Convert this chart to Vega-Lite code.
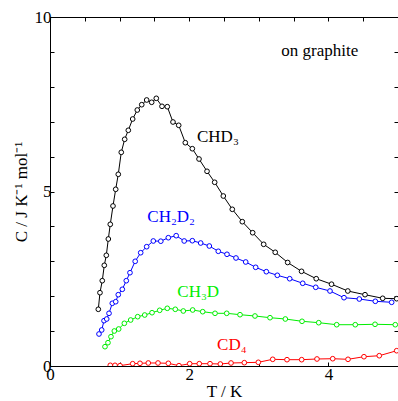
{
  "$schema": "https://vega.github.io/schema/vega-lite/v6.json",
  "width": 348,
  "height": 349,
  "autosize": {"type": "none"},
  "padding": {"left": 50, "top": 17, "right": 0, "bottom": 35},
  "background": "white",
  "config": {
    "view": {"stroke": null},
    "font": "Liberation Serif",
    "axis": {"labelFont": "Liberation Serif", "titleFont": "Liberation Serif", "labelFontSize": 17, "titleFontSize": 17, "titleFontWeight": "normal", "labelColor": "black", "titleColor": "black", "domainColor": "black", "tickColor": "black", "grid": false}
  },
  "datasets": {
    "curves": [
      {"s": "CHD3", "T": 0.694, "C": 1.625}, {"s": "CHD3", "T": 0.718, "C": 2.10}, {"s": "CHD3", "T": 0.751, "C": 2.444}, {"s": "CHD3", "T": 0.780, "C": 2.885},
      {"s": "CHD3", "T": 0.809, "C": 3.172}, {"s": "CHD3", "T": 0.838, "C": 3.639}, {"s": "CHD3", "T": 0.866, "C": 4.060}, {"s": "CHD3", "T": 0.905, "C": 4.585},
      {"s": "CHD3", "T": 0.944, "C": 5.063}, {"s": "CHD3", "T": 0.981, "C": 5.493}, {"s": "CHD3", "T": 1.024, "C": 6.123}, {"s": "CHD3", "T": 1.073, "C": 6.496},
      {"s": "CHD3", "T": 1.125, "C": 6.754}, {"s": "CHD3", "T": 1.188, "C": 7.077}, {"s": "CHD3", "T": 1.254, "C": 7.335}, {"s": "CHD3", "T": 1.318, "C": 7.487},
      {"s": "CHD3", "T": 1.389, "C": 7.622}, {"s": "CHD3", "T": 1.461, "C": 7.556}, {"s": "CHD3", "T": 1.527, "C": 7.670}, {"s": "CHD3", "T": 1.609, "C": 7.441},
      {"s": "CHD3", "T": 1.685, "C": 7.430}, {"s": "CHD3", "T": 1.767, "C": 6.991}, {"s": "CHD3", "T": 1.849, "C": 6.897}, {"s": "CHD3", "T": 1.944, "C": 6.398},
      {"s": "CHD3", "T": 2.045, "C": 6.226}, {"s": "CHD3", "T": 2.141, "C": 5.931}, {"s": "CHD3", "T": 2.256, "C": 5.579}, {"s": "CHD3", "T": 2.366, "C": 5.264},
      {"s": "CHD3", "T": 2.490, "C": 4.871}, {"s": "CHD3", "T": 2.619, "C": 4.490}, {"s": "CHD3", "T": 2.763, "C": 4.135}, {"s": "CHD3", "T": 2.912, "C": 3.819},
      {"s": "CHD3", "T": 3.070, "C": 3.487}, {"s": "CHD3", "T": 3.236, "C": 3.258}, {"s": "CHD3", "T": 3.415, "C": 2.966}, {"s": "CHD3", "T": 3.614, "C": 2.713},
      {"s": "CHD3", "T": 3.825, "C": 2.501}, {"s": "CHD3", "T": 4.045, "C": 2.344}, {"s": "CHD3", "T": 4.279, "C": 2.149}, {"s": "CHD3", "T": 4.526, "C": 2.043},
      {"s": "CHD3", "T": 4.780, "C": 1.940}, {"s": "CHD3", "T": 4.981, "C": 1.928},
      {"s": "CH2D2", "T": 0.704, "C": 0.917}, {"s": "CH2D2", "T": 0.743, "C": 1.032}, {"s": "CH2D2", "T": 0.776, "C": 1.298}, {"s": "CH2D2", "T": 0.815, "C": 1.347},
      {"s": "CH2D2", "T": 0.848, "C": 1.510}, {"s": "CH2D2", "T": 0.895, "C": 1.797}, {"s": "CH2D2", "T": 0.944, "C": 1.842}, {"s": "CH2D2", "T": 0.981, "C": 2.043},
      {"s": "CH2D2", "T": 1.039, "C": 2.198}, {"s": "CH2D2", "T": 1.096, "C": 2.444}, {"s": "CH2D2", "T": 1.149, "C": 2.673}, {"s": "CH2D2", "T": 1.224, "C": 3.0},
      {"s": "CH2D2", "T": 1.303, "C": 3.246}, {"s": "CH2D2", "T": 1.389, "C": 3.418}, {"s": "CH2D2", "T": 1.484, "C": 3.582}, {"s": "CH2D2", "T": 1.592, "C": 3.576},
      {"s": "CH2D2", "T": 1.700, "C": 3.676}, {"s": "CH2D2", "T": 1.813, "C": 3.734}, {"s": "CH2D2", "T": 1.928, "C": 3.582}, {"s": "CH2D2", "T": 2.045, "C": 3.590},
      {"s": "CH2D2", "T": 2.165, "C": 3.524}, {"s": "CH2D2", "T": 2.289, "C": 3.438}, {"s": "CH2D2", "T": 2.418, "C": 3.287}, {"s": "CH2D2", "T": 2.543, "C": 3.201},
      {"s": "CH2D2", "T": 2.672, "C": 3.095}, {"s": "CH2D2", "T": 2.812, "C": 2.980}, {"s": "CH2D2", "T": 2.955, "C": 2.828}, {"s": "CH2D2", "T": 3.108, "C": 2.702},
      {"s": "CH2D2", "T": 3.266, "C": 2.599}, {"s": "CH2D2", "T": 3.444, "C": 2.501}, {"s": "CH2D2", "T": 3.631, "C": 2.370}, {"s": "CH2D2", "T": 3.818, "C": 2.255},
      {"s": "CH2D2", "T": 4.023, "C": 2.149}, {"s": "CH2D2", "T": 4.224, "C": 1.957}, {"s": "CH2D2", "T": 4.444, "C": 1.920}, {"s": "CH2D2", "T": 4.674, "C": 1.854},
      {"s": "CH2D2", "T": 4.909, "C": 1.825},
      {"s": "CH3D", "T": 0.790, "C": 0.553}, {"s": "CH3D", "T": 0.833, "C": 0.668}, {"s": "CH3D", "T": 0.876, "C": 0.840}, {"s": "CH3D", "T": 0.924, "C": 1.003},
      {"s": "CH3D", "T": 0.987, "C": 1.060}, {"s": "CH3D", "T": 1.068, "C": 1.223}, {"s": "CH3D", "T": 1.159, "C": 1.318}, {"s": "CH3D", "T": 1.260, "C": 1.413},
      {"s": "CH3D", "T": 1.361, "C": 1.461}, {"s": "CH3D", "T": 1.466, "C": 1.527}, {"s": "CH3D", "T": 1.576, "C": 1.596}, {"s": "CH3D", "T": 1.685, "C": 1.653},
      {"s": "CH3D", "T": 1.800, "C": 1.625}, {"s": "CH3D", "T": 1.915, "C": 1.576}, {"s": "CH3D", "T": 2.050, "C": 1.605}, {"s": "CH3D", "T": 2.194, "C": 1.556},
      {"s": "CH3D", "T": 2.371, "C": 1.510}, {"s": "CH3D", "T": 2.539, "C": 1.510}, {"s": "CH3D", "T": 2.730, "C": 1.470}, {"s": "CH3D", "T": 2.945, "C": 1.433},
      {"s": "CH3D", "T": 3.161, "C": 1.384}, {"s": "CH3D", "T": 3.381, "C": 1.347}, {"s": "CH3D", "T": 3.621, "C": 1.281}, {"s": "CH3D", "T": 3.861, "C": 1.241},
      {"s": "CH3D", "T": 4.119, "C": 1.183}, {"s": "CH3D", "T": 4.386, "C": 1.183}, {"s": "CH3D", "T": 4.670, "C": 1.195}, {"s": "CH3D", "T": 4.961, "C": 1.183},
      {"s": "CD4", "T": 0.866, "C": 0.02}, {"s": "CD4", "T": 0.934, "C": 0.02}, {"s": "CD4", "T": 1.006, "C": 0.01}, {"s": "CD4", "T": 1.188, "C": 0.066},
      {"s": "CD4", "T": 1.293, "C": 0.077}, {"s": "CD4", "T": 1.412, "C": 0.086}, {"s": "CD4", "T": 1.552, "C": 0.086}, {"s": "CD4", "T": 1.700, "C": 0.077},
      {"s": "CD4", "T": 1.853, "C": 0.01}, {"s": "CD4", "T": 2.007, "C": 0.066}, {"s": "CD4", "T": 2.145, "C": 0.066}, {"s": "CD4", "T": 2.299, "C": 0.066},
      {"s": "CD4", "T": 2.447, "C": 0.057}, {"s": "CD4", "T": 2.601, "C": 0.086}, {"s": "CD4", "T": 2.792, "C": 0.095}, {"s": "CD4", "T": 2.993, "C": 0.106},
      {"s": "CD4", "T": 3.200, "C": 0.192}, {"s": "CD4", "T": 3.405, "C": 0.181}, {"s": "CD4", "T": 3.616, "C": 0.181}, {"s": "CD4", "T": 3.836, "C": 0.201},
      {"s": "CD4", "T": 4.062, "C": 0.209}, {"s": "CD4", "T": 4.282, "C": 0.192}, {"s": "CD4", "T": 4.511, "C": 0.266}, {"s": "CD4", "T": 4.731, "C": 0.295},
      {"s": "CD4", "T": 4.981, "C": 0.438}
    ],
    "labels": [
      {"s": "CHD3", "text": "CHD₃", "T": 2.112, "C": 6.43},
      {"s": "CH2D2", "text": "CH₂D₂", "T": 1.398, "C": 4.135},
      {"s": "CH3D", "text": "CH₃D", "T": 1.829, "C": 1.986},
      {"s": "CD4", "text": "CD₄", "T": 2.40, "C": 0.458},
      {"s": "note", "text": "on graphite", "T": 3.324, "C": 8.88}
    ]
  },
  "resolve": {"axis": {"x": "independent", "y": "independent"}},
  "layer": [
    {
      "data": {"name": "curves"},
      "mark": {"type": "line", "strokeWidth": 1, "clip": true, "point": {"filled": false, "fill": "white", "size": 22, "strokeWidth": 1}},
      "encoding": {
        "x": {"field": "T", "type": "quantitative", "scale": {"domain": [0, 5], "nice": false, "zero": false},
          "axis": {"orient": "bottom", "title": "T / K", "format": "d", "values": [0, 0.5, 1, 1.5, 2, 2.5, 3, 3.5, 4, 4.5, 5], "labelExpr": "datum.value % 2 == 0 && datum.value < 5 ? datum.label : ''", "tickSize": -4, "labelPadding": 4, "titlePadding": 1, "labelFlush": false, "labelOverlap": false,
            "labelFont": "Liberation Serif", "titleFont": "Liberation Serif", "labelFontSize": 17, "titleFontSize": 17, "titleFontWeight": "normal"}},
        "y": {"field": "C", "type": "quantitative", "scale": {"domain": [0, 10], "nice": false},
          "axis": {"orient": "left", "title": "C / J K⁻¹ mol⁻¹", "format": "d", "values": [0, 1, 2, 3, 4, 5, 6, 7, 8, 9, 10], "labelExpr": "datum.value % 5 == 0 ? datum.label : ''", "tickSize": -4, "labelPadding": 3, "titlePadding": 4, "labelFlush": false, "labelOverlap": false,
            "labelFont": "Liberation Serif", "titleFont": "Liberation Serif", "labelFontSize": 17, "titleFontSize": 17, "titleFontWeight": "normal"}},
        "color": {"field": "s", "type": "nominal", "legend": null,
          "scale": {"domain": ["CHD3", "CH2D2", "CH3D", "CD4", "note"], "range": ["black", "#0000ff", "#00ee00", "#ff0000", "black"]}}
      }
    },
    {
      "data": {"name": "labels"},
      "mark": {"type": "text", "align": "left", "baseline": "alphabetic", "font": "Liberation Serif", "fontSize": 17},
      "encoding": {
        "x": {"field": "T", "type": "quantitative", "scale": {"domain": [0, 5], "nice": false, "zero": false},
          "axis": {"orient": "top", "title": null, "values": [0, 0.5, 1, 1.5, 2, 2.5, 3, 3.5, 4, 4.5, 5], "labels": false, "tickSize": -4}},
        "y": {"field": "C", "type": "quantitative", "scale": {"domain": [0, 10], "nice": false},
          "axis": {"orient": "right", "title": null, "domain": false, "values": [0, 1, 2, 3, 4, 5, 6, 7, 8, 9, 10], "labels": false, "tickSize": -4}},
        "text": {"field": "text"},
        "color": {"field": "s", "type": "nominal", "legend": null}
      }
    }
  ]
}
